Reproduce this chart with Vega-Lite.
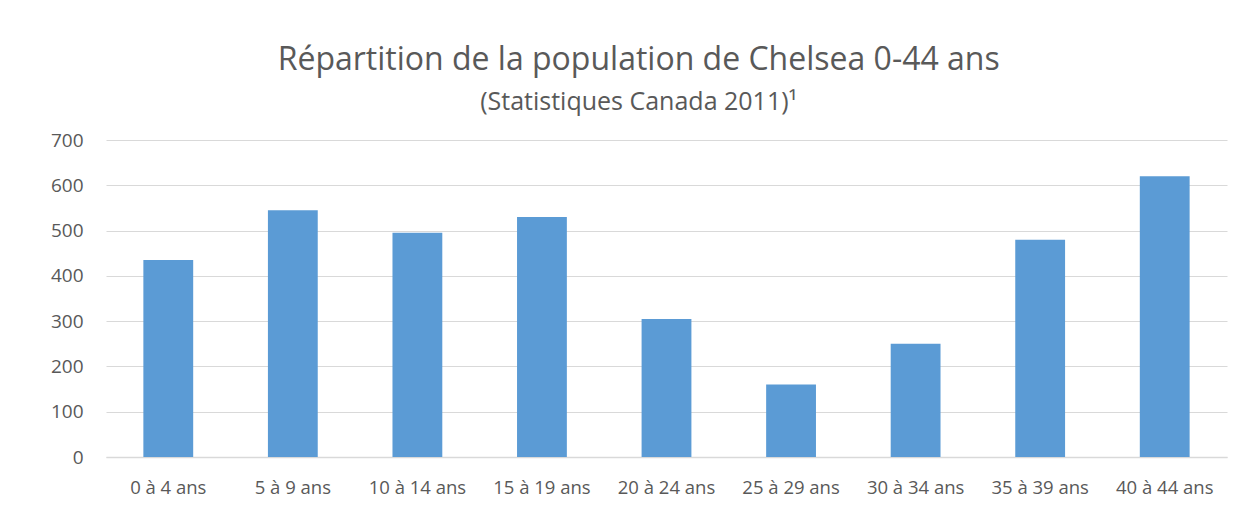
{
  "$schema": "https://vega.github.io/schema/vega-lite/v6.json",
  "width": 1121,
  "height": 317,
  "autosize": {"type": "none"},
  "padding": {"left": 106, "top": 140, "right": 18, "bottom": 72},
  "background": "white",
  "title": {
    "text": "Répartition de la population de Chelsea 0-44 ans",
    "subtitle": "(Statistiques Canada 2011)¹",
    "frame": "bounds",
    "anchor": "middle",
    "font": "Open Sans",
    "fontSize": 32,
    "fontWeight": "normal",
    "color": "#595959",
    "subtitleFont": "Open Sans",
    "subtitleFontSize": 25,
    "subtitleColor": "#595959",
    "subtitlePadding": 13,
    "offset": 15
  },
  "data": {
    "values": [
      {"age": "0 à 4 ans", "population": 435},
      {"age": "5 à 9 ans", "population": 545},
      {"age": "10 à 14 ans", "population": 495},
      {"age": "15 à 19 ans", "population": 530},
      {"age": "20 à 24 ans", "population": 305},
      {"age": "25 à 29 ans", "population": 160},
      {"age": "30 à 34 ans", "population": 250},
      {"age": "35 à 39 ans", "population": 480},
      {"age": "40 à 44 ans", "population": 620}
    ]
  },
  "mark": {"type": "bar", "color": "#5b9bd5"},
  "encoding": {
    "x": {
      "field": "age",
      "type": "nominal",
      "sort": null,
      "title": null,
      "scale": {"paddingInner": 0.6, "paddingOuter": 0.3},
      "axis": {
        "labelAngle": 0,
        "labelFont": "Open Sans",
        "labelFontSize": 18.5,
        "labelColor": "#595959",
        "labelPadding": 21,
        "labelOverlap": false,
        "labelLimit": 300,
        "ticks": false,
        "domainColor": "#d9d9d9",
        "domainWidth": 1.5
      }
    },
    "y": {
      "field": "population",
      "type": "quantitative",
      "title": null,
      "scale": {"domain": [0, 700]},
      "axis": {
        "values": [0, 100, 200, 300, 400, 500, 600, 700],
        "labelFont": "Open Sans",
        "labelFontSize": 19,
        "labelColor": "#595959",
        "labelPadding": 23,
        "ticks": false,
        "domain": false,
        "gridColor": "#d9d9d9",
        "gridWidth": 1.2
      }
    }
  },
  "config": {"view": {"stroke": null}}
}
